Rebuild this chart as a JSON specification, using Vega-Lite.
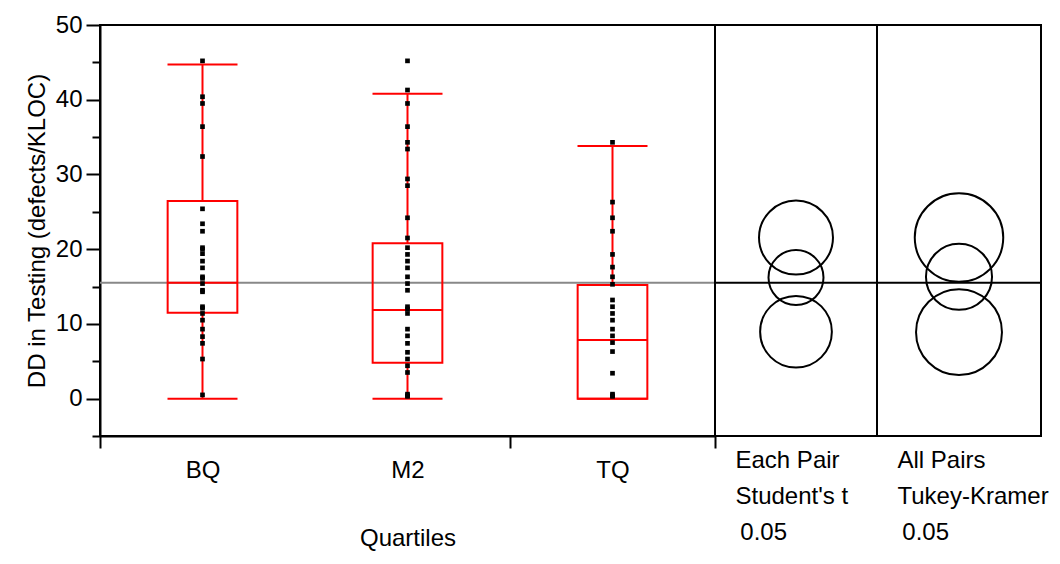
{
  "$schema": "https://vega.github.io/schema/vega-lite/v6.json",
  "autosize": {"type": "pad"},
  "padding": {"left": 24, "top": 12, "right": 5, "bottom": 5},
  "background": "white",
  "bounds": "flush",
  "spacing": 0,
  "config": {
    "font": "Liberation Sans",
    "view": {"stroke": "black", "strokeWidth": 2},
    "axis": {
      "labelFont": "Liberation Sans", "titleFont": "Liberation Sans",
      "labelColor": "black", "titleColor": "black", "titleFontWeight": "normal",
      "domainColor": "black", "tickColor": "black", "domainWidth": 2, "tickWidth": 2,
      "grid": false, "labelFontSize": 24, "titleFontSize": 24
    }
  },
  "datasets": {
    "points": [
      {"q": "BQ", "dd": 45.2}, {"q": "BQ", "dd": 40.4}, {"q": "BQ", "dd": 39.5}, {"q": "BQ", "dd": 36.4},
      {"q": "BQ", "dd": 32.4}, {"q": "BQ", "dd": 25.4}, {"q": "BQ", "dd": 23.4}, {"q": "BQ", "dd": 22.4},
      {"q": "BQ", "dd": 20.2}, {"q": "BQ", "dd": 20.0}, {"q": "BQ", "dd": 19.4}, {"q": "BQ", "dd": 18.4},
      {"q": "BQ", "dd": 17.5}, {"q": "BQ", "dd": 16.3}, {"q": "BQ", "dd": 16.1}, {"q": "BQ", "dd": 15.4},
      {"q": "BQ", "dd": 14.5}, {"q": "BQ", "dd": 14.3}, {"q": "BQ", "dd": 12.3}, {"q": "BQ", "dd": 12.1},
      {"q": "BQ", "dd": 11.4}, {"q": "BQ", "dd": 10.5}, {"q": "BQ", "dd": 9.3}, {"q": "BQ", "dd": 8.3},
      {"q": "BQ", "dd": 7.4}, {"q": "BQ", "dd": 5.3}, {"q": "BQ", "dd": 0.5},
      {"q": "M2", "dd": 45.2}, {"q": "M2", "dd": 41.3}, {"q": "M2", "dd": 39.5}, {"q": "M2", "dd": 36.4},
      {"q": "M2", "dd": 34.3}, {"q": "M2", "dd": 33.4}, {"q": "M2", "dd": 29.4}, {"q": "M2", "dd": 28.5},
      {"q": "M2", "dd": 24.2}, {"q": "M2", "dd": 21.5}, {"q": "M2", "dd": 20.2}, {"q": "M2", "dd": 19.3},
      {"q": "M2", "dd": 18.4}, {"q": "M2", "dd": 17.5}, {"q": "M2", "dd": 16.3}, {"q": "M2", "dd": 15.4},
      {"q": "M2", "dd": 14.5}, {"q": "M2", "dd": 12.3}, {"q": "M2", "dd": 12.0}, {"q": "M2", "dd": 11.4},
      {"q": "M2", "dd": 9.3}, {"q": "M2", "dd": 8.4}, {"q": "M2", "dd": 7.4}, {"q": "M2", "dd": 6.2},
      {"q": "M2", "dd": 5.3}, {"q": "M2", "dd": 4.4}, {"q": "M2", "dd": 3.5}, {"q": "M2", "dd": 0.6},
      {"q": "M2", "dd": 0.4}, {"q": "M2", "dd": 0.3},
      {"q": "TQ", "dd": 34.3}, {"q": "TQ", "dd": 26.3}, {"q": "TQ", "dd": 24.2}, {"q": "TQ", "dd": 22.4},
      {"q": "TQ", "dd": 19.3}, {"q": "TQ", "dd": 17.6}, {"q": "TQ", "dd": 16.3}, {"q": "TQ", "dd": 15.3},
      {"q": "TQ", "dd": 13.2}, {"q": "TQ", "dd": 12.3}, {"q": "TQ", "dd": 11.4}, {"q": "TQ", "dd": 10.5},
      {"q": "TQ", "dd": 9.3}, {"q": "TQ", "dd": 8.4}, {"q": "TQ", "dd": 7.5}, {"q": "TQ", "dd": 6.3},
      {"q": "TQ", "dd": 3.4}, {"q": "TQ", "dd": 0.6}, {"q": "TQ", "dd": 0.4}, {"q": "TQ", "dd": 0.3}
    ],
    "boxes": [
      {"q": "BQ", "lo": 0, "q1": 11.5, "med": 15.5, "q3": 26.45, "hi": 44.7},
      {"q": "M2", "lo": 0, "q1": 4.8, "med": 11.85, "q3": 20.8, "hi": 40.8},
      {"q": "TQ", "lo": 0, "q1": 0, "med": 7.85, "q3": 15.2, "hi": 33.8}
    ],
    "mean": [{"mean": 15.5}],
    "student": [
      {"q": "BQ", "m": 21.55, "r": 4.95},
      {"q": "M2", "m": 16.2, "r": 3.68},
      {"q": "TQ", "m": 8.95, "r": 4.8}
    ],
    "tukey": [
      {"q": "BQ", "m": 21.55, "r": 5.92},
      {"q": "M2", "m": 16.3, "r": 4.42},
      {"q": "TQ", "m": 8.9, "r": 5.75}
    ]
  },
  "hconcat": [
    {
      "width": 615,
      "height": 411,
      "resolve": {"axis": {"y": "independent"}},
      "layer": [
        {
          "data": {"name": "mean"},
          "mark": {"type": "rule", "color": "#888888", "strokeWidth": 2},
          "encoding": {
            "y": {"field": "mean", "type": "quantitative", "scale": {"domain": [-5, 50], "nice": false, "zero": false},
                  "title": "DD in Testing (defects/KLOC)",
                  "axis": {
                    "orient": "left",
                    "values": [0, 10, 20, 30, 40, 50],
                    "tickSize": 14, "labelOverlap": false,
                    "labelPadding": 4, "titlePadding": 6
                  }}
          }
        },
        {
          "data": {"name": "boxes"},
          "mark": {"type": "bar", "fill": "transparent", "stroke": "#ff0000", "strokeWidth": 2, "width": {"band": 0.34}},
          "encoding": {
            "x": {"field": "q", "type": "nominal", "scale": {"type": "band", "domain": ["BQ", "M2", "TQ"], "paddingInner": 0, "paddingOuter": 0},
                  "title": "Quartiles",
                  "axis": {"tickBand": "extent", "tickSize": 12, "labelAngle": 0, "labelPadding": 10, "titlePadding": 44,
                           "tickOpacity": {"condition": {"test": "datum.value === 'BQ' && !datum.extra", "value": 0}, "value": 1}}},
            "y": {"field": "q1", "type": "quantitative", "title": null,
                  "axis": {"orient": "left", "values": [-5, 5, 15, 25, 35, 45], "tickSize": 8, "labels": false, "domain": false, "title": null}},
            "y2": {"field": "q3"}
          }
        },
        {
          "data": {"name": "boxes"},
          "mark": {"type": "rule", "color": "#ff0000", "strokeWidth": 2},
          "encoding": {
            "x": {"field": "q", "type": "nominal", "title": "Quartiles"},
            "y": {"field": "lo", "type": "quantitative", "axis": null},
            "y2": {"field": "q1"}
          }
        },
        {
          "data": {"name": "boxes"},
          "mark": {"type": "rule", "color": "#ff0000", "strokeWidth": 2},
          "encoding": {
            "x": {"field": "q", "type": "nominal", "title": "Quartiles"},
            "y": {"field": "q3", "type": "quantitative", "axis": null},
            "y2": {"field": "hi"}
          }
        },
        {
          "data": {"name": "boxes"},
          "mark": {"type": "tick", "color": "#ff0000", "size": 70, "thickness": 2, "opacity": 1},
          "encoding": {
            "x": {"field": "q", "type": "nominal", "title": "Quartiles"},
            "y": {"field": "med", "type": "quantitative", "axis": null}
          }
        },
        {
          "data": {"name": "boxes"},
          "mark": {"type": "tick", "color": "#ff0000", "size": 70, "thickness": 2, "opacity": 1},
          "encoding": {
            "x": {"field": "q", "type": "nominal", "title": "Quartiles"},
            "y": {"field": "lo", "type": "quantitative", "axis": null}
          }
        },
        {
          "data": {"name": "boxes"},
          "mark": {"type": "tick", "color": "#ff0000", "size": 70, "thickness": 2, "opacity": 1},
          "encoding": {
            "x": {"field": "q", "type": "nominal", "title": "Quartiles"},
            "y": {"field": "hi", "type": "quantitative", "axis": null}
          }
        },
        {
          "data": {"name": "points"},
          "mark": {"type": "point", "shape": "square", "filled": true, "color": "black", "size": 22, "opacity": 1},
          "encoding": {
            "x": {"field": "q", "type": "nominal", "title": "Quartiles"},
            "y": {"field": "dd", "type": "quantitative", "axis": null}
          }
        }
      ]
    },
    {
      "width": 162,
      "height": 411,
      "layer": [
        {
          "data": {"name": "mean"},
          "mark": {"type": "rule", "color": "black", "strokeWidth": 2},
          "encoding": {
            "y": {"field": "mean", "type": "quantitative", "scale": {"domain": [-5, 50], "nice": false, "zero": false}, "axis": null}
          }
        },
        {
          "data": {"name": "student"},
          "mark": {"type": "point", "shape": "circle", "filled": false, "color": "black", "strokeWidth": 2, "opacity": 1},
          "encoding": {
            "x": {"datum": 0.5, "type": "quantitative", "scale": {"domain": [0, 1]},
                  "axis": {"domain": false, "ticks": false, "labels": false,
                           "title": ["Each Pair", "Student's t", "\u200b\u20090.05"],
                           "titleAlign": "left", "titleAnchor": "start", "titleX": 20, "titleY": 12,
                           "titleBaseline": "top", "titleLineHeight": 36}},
            "y": {"field": "m", "type": "quantitative", "scale": {"domain": [-5, 50], "nice": false, "zero": false}, "axis": null},
            "size": {"field": "r", "type": "quantitative", "legend": null,
                     "scale": {"type": "pow", "exponent": 2, "domain": [0, 10], "range": [0, 22336]}}
          }
        }
      ]
    },
    {
      "width": 164,
      "height": 411,
      "layer": [
        {
          "data": {"name": "mean"},
          "mark": {"type": "rule", "color": "black", "strokeWidth": 2},
          "encoding": {
            "y": {"field": "mean", "type": "quantitative", "scale": {"domain": [-5, 50], "nice": false, "zero": false}, "axis": null}
          }
        },
        {
          "data": {"name": "tukey"},
          "mark": {"type": "point", "shape": "circle", "filled": false, "color": "black", "strokeWidth": 2, "opacity": 1},
          "encoding": {
            "x": {"datum": 0.5, "type": "quantitative", "scale": {"domain": [0, 1]},
                  "axis": {"domain": false, "ticks": false, "labels": false,
                           "title": ["All Pairs", "Tukey-Kramer", "\u200b\u20090.05"],
                           "titleAlign": "left", "titleAnchor": "start", "titleX": 20, "titleY": 12,
                           "titleBaseline": "top", "titleLineHeight": 36}},
            "y": {"field": "m", "type": "quantitative", "scale": {"domain": [-5, 50], "nice": false, "zero": false}, "axis": null},
            "size": {"field": "r", "type": "quantitative", "legend": null,
                     "scale": {"type": "pow", "exponent": 2, "domain": [0, 10], "range": [0, 22336]}}
          }
        }
      ]
    }
  ]
}
